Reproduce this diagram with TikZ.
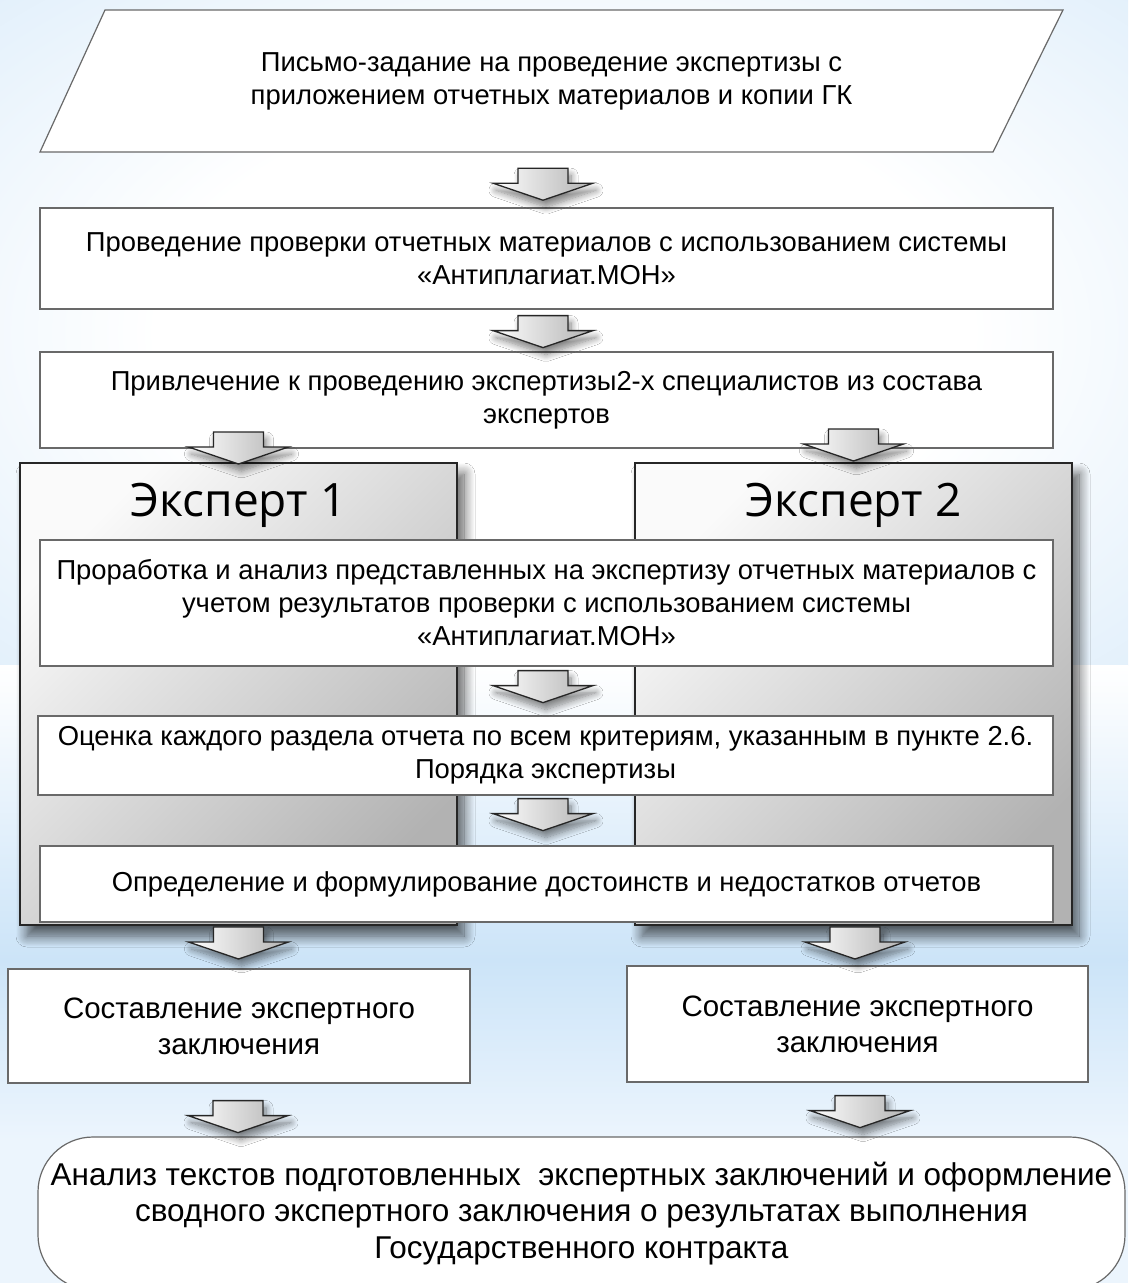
\documentclass[tikz,border=0pt]{standalone}
\usepackage{fontspec}
\setmainfont{Liberation Sans}
\newfontfamily\titlefont{Open Sans}
\usetikzlibrary{positioning, calc, shadows.blur}

\definecolor{bgblue}{RGB}{204,228,248}
\definecolor{bgpale}{RGB}{236,245,253}
\definecolor{framegray}{RGB}{105,105,105}
\pgfdeclareradialshading{glow}{\pgfpoint{0bp}{0bp}}{color(0bp)=(white); color(18bp)=(white); color(50bp)=(bgblue); color(72bp)=(bgblue)}

\tikzset{
	pics/downarrow/.style={code={
		\draw[arrowbody] (-25,0) -- (25,0) -- (25,15) -- (50,15) -- (0,32) -- (-50,15) -- (-25,15) -- cycle;
	}},
}

\begin{document}
\begin{tikzpicture}[x=1pt, y=-1pt, font=\fontsize{27.4}{33}\selectfont,
	stepbox/.style={draw=framegray, line width=1.2pt, fill=white, align=center, inner sep=0pt},
	textonly/.style={align=center, inner sep=0pt},
	panel/.style={draw=black!85, line width=2pt, top color=gray!4, bottom color=gray!60, shading angle=45,
		blur shadow={shadow xshift=7pt, shadow yshift=-11pt, shadow blur radius=11pt, shadow blur steps=14, shadow opacity=65}},
	title/.style={font=\titlefont\fontsize{46}{50}\selectfont, inner sep=0pt},
	arrowbody/.style={draw=black!85, line width=1.3pt, line join=miter, left color=white, right color=gray!60,
		blur shadow={shadow xshift=3pt, shadow yshift=-7pt, shadow blur radius=7pt, shadow blur steps=10, shadow opacity=50}}]
	
	\useasboundingbox (0,0) rectangle (1128,1283);
	\fill[bgpale] (0,0) rectangle (1128,1283);
	\shade[shading=glow] (0,0) rectangle (1128,665);
	\shade[top color=white, bottom color=bgblue] (0,665) rectangle (1128,960);
	\shade[top color=bgblue, bottom color=bgpale] (0,960) rectangle (1128,1140);
	
	\draw[stepbox] (105,10) -- (1063,10) -- (993,152) -- (40,152) -- cycle;
	\node[textonly, minimum width=1023, minimum height=142]	(letter)	at (551.5,81)	{Письмо-задание на проведение экспертизы с\\приложением отчетных материалов и копии ГК};
	
	\node[stepbox, minimum width=1013, minimum height=101]	(check)		at (546.5,258.5)	{Проведение проверки отчетных материалов с использованием системы\\«Антиплагиат.МОН»};
	\node[stepbox, minimum width=1013, minimum height=96]	(invite)	at (546.5,400)		{Привлечение к проведению экспертизы2-х специалистов из состава\\экспертов};
	
	\node[panel, minimum width=437, minimum height=462]		(exp1)		at (238.5,694)	{};
	\node[panel, minimum width=437, minimum height=462]		(exp2)		at (853.5,694)	{};
	\node[title, anchor=base]	(name1)	at ($(exp1.north)+(0,54)$)	{Эксперт 1};
	\node[title, anchor=base]	(name2)	at ($(exp2.north)+(0,54)$)	{Эксперт 2};
	
	\node[stepbox, minimum width=1013, minimum height=126]	(analysis)	at (546.5,603)		{Проработка и анализ представленных на экспертизу отчетных материалов с\\учетом результатов проверки с использованием системы\\«Антиплагиат.МОН»};
	\node[stepbox, minimum width=1015, minimum height=79]	(grading)	at (545.5,755.5)	{Оценка каждого раздела отчета по всем критериям, указанным в пункте 2.6.\\Порядка экспертизы};
	\node[stepbox, minimum width=1013, minimum height=76]	(merits)	at (546.5,884)		{Определение и формулирование достоинств и недостатков отчетов};
	
	\node[stepbox, font=\fontsize{29.5}{36}\selectfont, minimum width=462, minimum height=114]	(report1)	at (239,1026)	{Составление экспертного\\заключения};
	\node[stepbox, font=\fontsize{29.5}{36}\selectfont, minimum width=461, minimum height=116]	(report2)	at (857.5,1024)	{Составление экспертного\\заключения};
	
	\node[stepbox, rounded corners=55, font=\fontsize{31.5}{36.5}\selectfont, minimum width=1087, minimum height=153]	(summary)	at (581.5,1213.5)	{Анализ текстов подготовленных~ экспертных заключений и оформление\\сводного экспертного заключения о результатах выполнения\\Государственного контракта};
	
	\pic at ($(letter.south)+(-8.5,16)$)	{downarrow};
	\pic at ($(check.south)+(-3.5,6)$)		{downarrow};
	\pic at ($(exp1.north)+(0,-30)$)		{downarrow};
	\pic at ($(exp2.north)+(0,-33)$)		{downarrow};
	\pic at ($(analysis.south)+(-3.5,4)$)	{downarrow};
	\pic at ($(grading.south)+(-2.5,3)$)	{downarrow};
	\pic at ($(exp1.south)+(0,1)$)			{downarrow};
	\pic at ($(exp2.south)+(1.5,1)$)		{downarrow};
	\pic at ($(report1.south)+(-1,17)$)		{downarrow};
	\pic at ($(report2.south)+(2.5,13)$)	{downarrow};
\end{tikzpicture}
\end{document}
